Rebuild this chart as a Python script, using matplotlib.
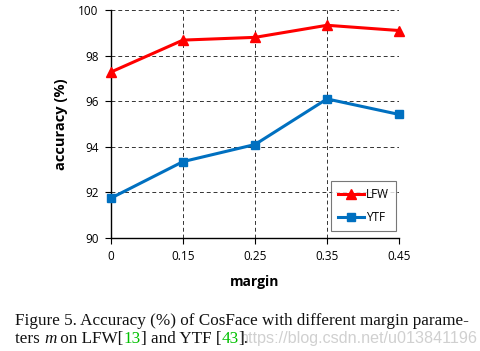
import matplotlib
matplotlib.use("Agg")
import matplotlib.pyplot as plt

margins = ["0", "0.15", "0.25", "0.35", "0.45"]
lfw = [97.28, 98.68, 98.8, 99.33, 99.1]
ytf = [91.75, 93.35, 94.1, 96.1, 95.42]
yticks = [90, 92, 94, 96, 98, 100]

W, H = 480, 351
fig = plt.figure(figsize=(W / 100, H / 100), dpi=100)
ax = fig.add_axes([111 / W, 1 - 238 / H, 288 / W, 228 / H])

x = list(range(len(margins)))
ax.plot(x, lfw, color="#ff0000", lw=2.2, marker="^", ms=6.5, label="LFW", clip_on=False, zorder=5)
ax.plot(x, ytf, color="#0070c0", lw=2.2, marker="s", ms=6, label="YTF", clip_on=False, zorder=5)

ax.set_xlim(0, 4)
ax.set_ylim(90, 100)
ax.set_xticks(x)
ax.set_xticklabels(margins)
ax.set_yticks(yticks)
ax.grid(True, color="#333333", ls=(0, (4, 3)), lw=0.7)
for s in ["top", "right"]:
    ax.spines[s].set_visible(False)
for s in ["left", "bottom"]:
    ax.spines[s].set_linewidth(1.0)
ax.tick_params(direction="out", length=4, width=0.8, labelsize=8.5, colors="black", pad=5)
for t in ax.get_xticklabels() + ax.get_yticklabels():
    t.set_family("Open Sans")
ax.set_xlabel("margin", fontsize=10, fontweight="bold", family="Open Sans", labelpad=8)
ax.set_ylabel("accuracy (%)", fontsize=10.5, fontweight="bold", family="Open Sans", labelpad=7)

leg = ax.legend(loc="lower right", bbox_to_anchor=(396 / W, 1 - 231 / H), bbox_transform=fig.transFigure,
                frameon=True, fancybox=False, edgecolor="#555555", prop={"family": "Open Sans", "size": 8.5},
                borderpad=0.6, labelspacing=0.8, handlelength=2.2, handletextpad=0.2, borderaxespad=0)
leg.get_frame().set_linewidth(0.8)

# caption
fig.canvas.draw()
r = fig.canvas.get_renderer()
cap_font = dict(family="Liberation Serif", fontsize=12.3)

def seq(parts, x0, y0):
    xp = x0
    for txt, col, extra in parts:
        t = fig.text(xp / W, 1 - y0 / H, txt, color=col, va="baseline", ha="left", **cap_font, **extra)
        bb = t.get_window_extent(renderer=r)
        xp += bb.width

wm = fig.text(240 / W, 1 - 343 / H, "https://blog.csdn.net/u013841196", color="#d0d0d0",
              family="Liberation Sans", fontsize=11, va="baseline", ha="left", zorder=0)
wbb = wm.get_window_extent(renderer=r)
wm.set_fontsize(11 * 237 / wbb.width)
seq([("Figure 5. Accuracy (%) of CosFace with different margin parame-", "#111111", {})], 15, 325)
seq([("ters ", "#111111", {}), ("m", "#111111", {"style": "italic"}), (" on LFW[", "#111111", {}),
     ("13", "#00c000", {}), ("] and YTF [", "#111111", {}), ("43", "#00c000", {}), ("].", "#111111", {})], 15, 343)

fig.savefig("out.png", dpi=100)
